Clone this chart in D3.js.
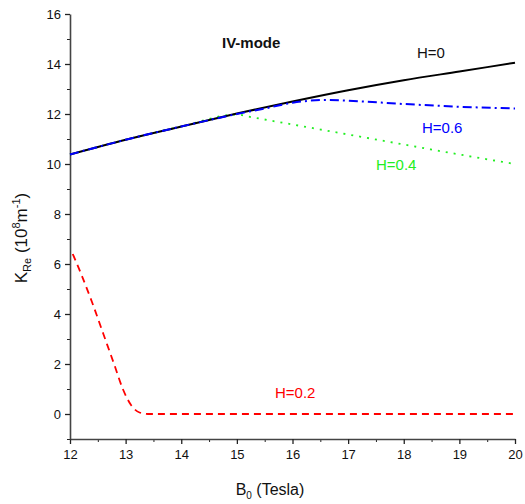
<!DOCTYPE html>
<html>
<head>
<meta charset="utf-8">
<script src="https://cdn.jsdelivr.net/npm/d3@7"></script>
<style>
  body { margin: 0; background: #fff; }
  text { font-family: "Liberation Sans", Arial, sans-serif; }
</style>
</head>
<body>
<div id="chart"></div>
<script>
// Data
const h0X = [12, 13, 14, 15, 16, 17, 18, 19, 20];
const h0Y = [10.38, 10.97, 11.5, 12.02, 12.5, 12.95, 13.35, 13.7, 14.05];

const h06X = [12, 13, 14, 15, 15.5, 16, 16.6, 17, 18, 19, 20];
const h06Y = [10.38, 10.97, 11.5, 12.0, 12.22, 12.45, 12.56, 12.53, 12.4, 12.29, 12.22];

const h04X = [12, 13, 14, 15, 15.2, 16, 17, 18, 19, 20];
const h04Y = [10.38, 10.97, 11.5, 11.98, 11.9, 11.58, 11.18, 10.78, 10.38, 10.0];

const h02X = [12.05, 12.2, 12.4, 12.6, 12.8, 12.95, 13.1, 13.25, 13.4, 20];
const h02Y = [6.4, 5.6, 4.45, 3.2, 1.95, 1.0, 0.35, 0.06, 0, 0];

const xTicks = [12, 13, 14, 15, 16, 17, 18, 19, 20];
const yTicks = [0, 2, 4, 6, 8, 10, 12, 14, 16];

const width = 525, height = 504;
const svg = d3.select("#chart").append("svg")
    .attr("width", width)
    .attr("height", height);

const x = d3.scaleLinear().domain([12, 20]).range([70, 515]);
const y = d3.scaleLinear().domain([-1, 16]).range([439, 14]);

// minor ticks
const xMinor = d3.range(12.5, 20, 1);
const yMinor = d3.range(-1, 16, 2);

svg.append("g")
    .attr("transform", `translate(0,${y(-1)})`)
    .call(d3.axisBottom(x).tickValues(xMinor).tickSize(3).tickFormat(""))
    .call(g => g.select(".domain").remove());
svg.append("g")
    .attr("transform", `translate(${x(12)},0)`)
    .call(d3.axisLeft(y).tickValues(yMinor).tickSize(3).tickFormat(""))
    .call(g => g.select(".domain").remove());

const xAxis = svg.append("g")
    .attr("transform", `translate(0,${y(-1)})`)
    .call(d3.axisBottom(x).tickValues(xTicks).tickSize(5).tickSizeOuter(0).tickPadding(6).tickFormat(d3.format("d")));
const yAxis = svg.append("g")
    .attr("transform", `translate(${x(12)},0)`)
    .call(d3.axisLeft(y).tickValues(yTicks).tickSize(5).tickSizeOuter(0).tickPadding(4).tickFormat(d3.format("d")));

[xAxis, yAxis].forEach(a => {
    a.selectAll("text").style("font-size", "13px").attr("fill", "#111");
    a.selectAll("line").attr("stroke", "#222").attr("stroke-width", 1.3);
    a.select(".domain").attr("stroke", "#444").attr("stroke-width", 1.6);
});
svg.selectAll("g .tick line").attr("stroke", "#222");

const line = d3.line().x(d => x(d[0])).y(d => y(d[1])).curve(d3.curveMonotoneX);

function drawSeries(xs, ys, color, dash, w) {
    svg.append("path")
        .datum(xs.map((v, i) => [v, ys[i]]))
        .attr("fill", "none")
        .attr("stroke", color)
        .attr("stroke-width", w)
        .attr("stroke-dasharray", dash)
        .attr("d", line);
}

drawSeries(h02X, h02Y, "#ff0000", "7,5", 1.8);
drawSeries(h04X, h04Y, "#22ee22", "2,6", 1.8);
drawSeries(h0X, h0Y, "#000000", null, 2);
drawSeries(h06X, h06Y, "#0000ff", "9,4,2,4", 2);

// labels
function label(tx, ty, str, color, bold) {
    svg.append("text")
        .attr("x", tx).attr("y", ty)
        .attr("fill", color)
        .style("font-size", "15px")
        .style("font-weight", bold ? "bold" : "normal")
        .text(str);
}
label(222, 48, "IV-mode", "#111", true);
label(417, 58, "H=0", "#111");
label(422, 133, "H=0.6", "#0000ff");
label(376, 170, "H=0.4", "#22ee22");
label(275, 398, "H=0.2", "#ff0000");

// axis titles
const xt = svg.append("text")
    .attr("x", 270).attr("y", 495)
    .attr("text-anchor", "middle")
    .attr("fill", "#111")
    .style("font-size", "16px");
xt.append("tspan").text("B");
xt.append("tspan").attr("dy", 4).style("font-size", "10px").text("0");
xt.append("tspan").attr("dy", -4).text(" (Tesla)");

const yt = svg.append("text")
    .attr("transform", "translate(27,238) rotate(-90)")
    .attr("text-anchor", "middle")
    .attr("fill", "#111")
    .style("font-size", "17px");
yt.append("tspan").text("K");
yt.append("tspan").attr("dy", 4).style("font-size", "11px").text("Re");
yt.append("tspan").attr("dy", -4).text(" (10");
yt.append("tspan").attr("dy", -7).style("font-size", "11px").text("8");
yt.append("tspan").attr("dy", 7).text("m");
yt.append("tspan").attr("dy", -7).style("font-size", "11px").text("-1");
yt.append("tspan").attr("dy", 7).text(")");
</script>
</body>
</html>
